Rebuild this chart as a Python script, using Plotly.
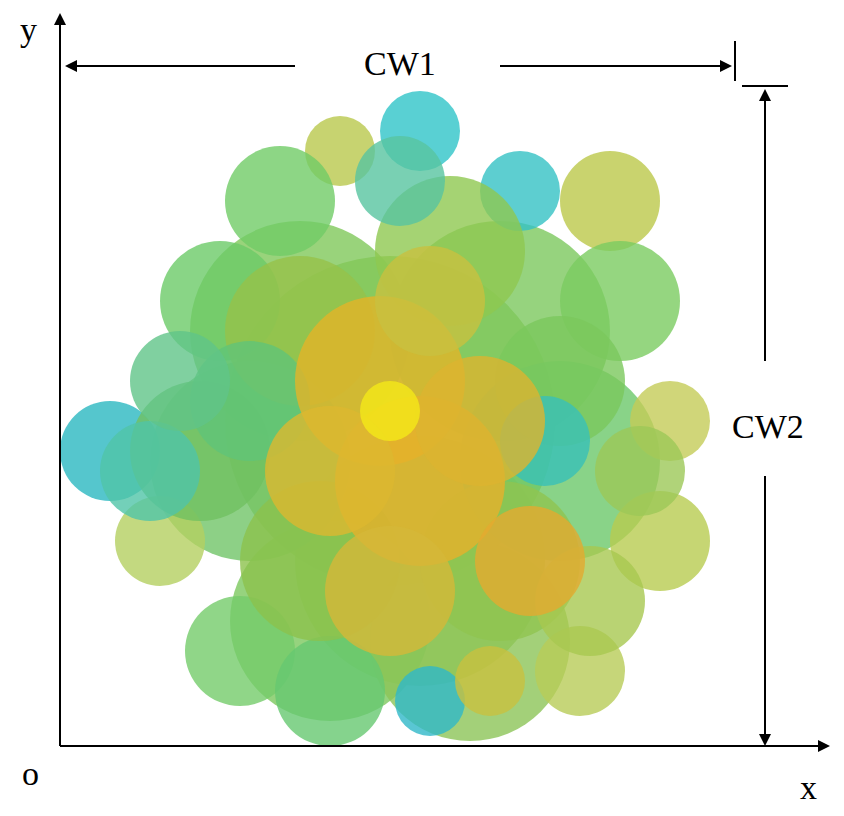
import plotly.graph_objects as go

# canopy blobs (pixel coords of reference image), drawn back to front
blob_x = [390,300,500,420,250,560,330,470,
          420,340,610,520,280,220,110,160,240,330,430,490,580,660,670,620,
          560,450,300,200,320,500,545,150,590,250,400,180,640,
          380,420,330,480,530,390,430,390]
blob_y = [420,330,330,560,460,460,620,640,
          130,150,200,190,200,300,450,540,650,690,700,680,670,540,420,300,
          380,250,330,450,560,560,440,470,600,400,180,380,470,
          380,480,470,420,560,590,300,410]
blob_size = [330,220,220,250,200,200,200,200,
             80,70,100,80,110,120,100,90,110,110,70,70,90,100,80,120,
             130,150,150,140,160,160,90,100,110,120,90,100,90,
             170,170,130,130,110,130,110,60]
blob_color = ["#8cc650","#80c85a","#7cc85e","#94c450","#70c468","#6cc86a","#7cc85e","#8cc458",
              "#30c4c8","#b9c84c","#bcc84a","#34c2c4","#70cc66","#6ccb68","#2ab8c0","#b4d060",
              "#74cc6a","#66c870","#30b8c8","#c8c040","#b8cc58","#b8cc50","#c4cc58","#7acc60",
              "#7ac85c","#8ec850","#96c24a","#70c060","#8cc24c","#90c450","#38c0b8","#50c4a8",
              "#a8c850","#60c478","#58c4a0","#60c488","#9cc858",
              "#e4b428","#e6b02a","#dcb830","#dcb430","#e4aa30","#d4b838","#c8c040","#f4e818"]

fig = go.Figure()
fig.add_trace(go.Scatter(x=blob_x, y=blob_y, mode="markers",
    marker=dict(size=blob_size, color=blob_color, opacity=0.8, line=dict(width=0)),
    hoverinfo="skip", showlegend=False))

ln = dict(color="black", width=2)
shapes = [
    dict(type="line", x0=60, y0=745, x1=820, y1=745, line=ln),
    dict(type="line", x0=60, y0=745, x1=60, y1=25, line=ln),
    dict(type="line", x0=75, y0=65, x1=295, y1=65, line=ln),
    dict(type="line", x0=500, y0=65, x1=720, y1=65, line=ln),
    dict(type="line", x0=735, y0=40, x1=735, y1=80, line=ln),
    dict(type="line", x0=742, y0=85, x1=788, y1=85, line=ln),
    dict(type="line", x0=765, y0=100, x1=765, y1=360, line=ln),
    dict(type="line", x0=765, y0=475, x1=765, y1=735, line=ln),
]
def arrow(x, y, ax, ay):
    fig.add_annotation(x=x, y=y, ax=ax, ay=ay, xref="x", yref="y", axref="x", ayref="y",
                       showarrow=True, arrowhead=2, arrowsize=1.2, arrowwidth=2, arrowcolor="black", text="")
arrow(830, 745, 800, 745)
arrow(60, 12, 60, 45)
arrow(65, 65, 100, 65)
arrow(732, 65, 700, 65)
arrow(765, 88, 765, 120)
arrow(765, 745, 765, 715)

font = dict(family="Liberation Serif", size=34, color="black")
for t, x, y in [("CW1", 400, 62), ("CW2", 768, 425), ("y", 28, 28), ("o", 30, 772), ("x", 808, 786)]:
    fig.add_annotation(x=x, y=y, text=t, showarrow=False, font=font, xref="x", yref="y")

fig.update_layout(width=844, height=816, margin=dict(l=0, r=0, t=0, b=0),
    plot_bgcolor="white", paper_bgcolor="white", shapes=shapes,
    xaxis=dict(range=[8, 852], visible=False, fixedrange=True),
    yaxis=dict(range=[823, 7], visible=False, fixedrange=True))
fig.write_html("out.html")
